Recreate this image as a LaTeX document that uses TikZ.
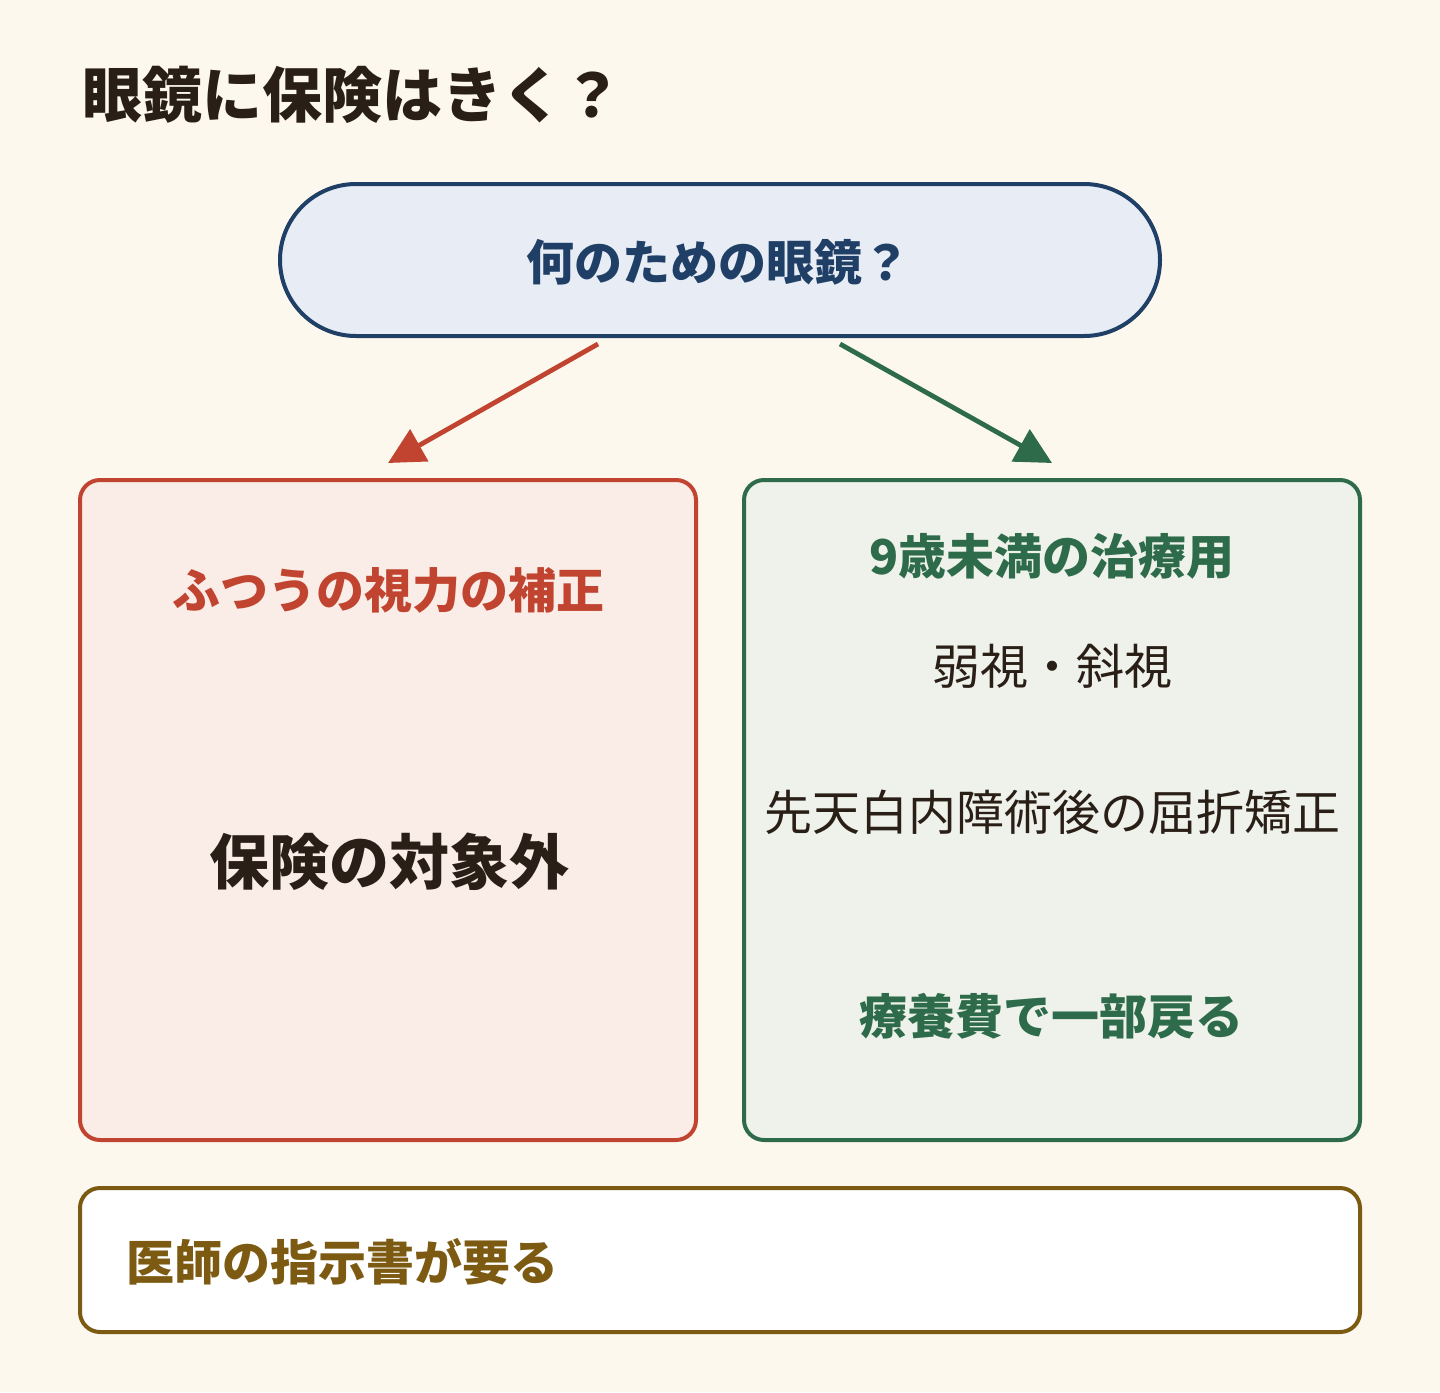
\documentclass[tikz,border=0pt]{standalone}
\usepackage{fontspec}
\setmainfont{Noto Sans CJK JP}
\usetikzlibrary{arrows.meta}
\definecolor{bg}{HTML}{FCF8EE}
\definecolor{redc}{HTML}{C0442F}
\definecolor{redf}{HTML}{FAEDE8}
\definecolor{greenc}{HTML}{2E6B4A}
\definecolor{greenf}{HTML}{EEF2EA}
\definecolor{navyc}{HTML}{1F3F66}
\definecolor{navyf}{HTML}{E8EDF5}
\definecolor{brownc}{HTML}{7D5A12}
\definecolor{inkc}{HTML}{2A1F17}
\tikzset{
  panel/.style={draw, line width=2pt, rounded corners=10pt, inner sep=0pt},
  lbl/.style={inner sep=0pt, font=\fontsize{24pt}{28pt}\selectfont},
  blbl/.style={inner sep=0pt, font=\fontsize{24pt}{28pt}\selectfont\bfseries},
  arr/.style={line width=2.4pt, -{Triangle[length=18pt,width=18pt]}},
}
\begin{document}
\begin{tikzpicture}[x=0.5pt,y=-0.5pt]
\fill[bg] (0,0) rectangle (1440,1392);
\useasboundingbox (0,0) rectangle (1440,1392);
\node[anchor=west, inner sep=0pt, text=inkc, font=\fontsize{30pt}{34pt}\selectfont\bfseries] (title) at (82,95) {眼鏡に保険はきく？};
\node[panel, draw=navyc, fill=navyf, rounded corners=38pt, minimum width=440pt, minimum height=76pt] (top) at (720,260) {};
\node[blbl, text=navyc] (toptext) at (718,262) {何のための眼鏡？};
\node[panel, draw=redc, fill=redf, minimum width=308pt, minimum height=330pt] (left) at (388,810) {};
\node[panel, draw=greenc, fill=greenf, minimum width=308pt, minimum height=330pt] (right) at (1052,810) {};
\node[panel, draw=brownc, fill=white, minimum width=640pt, minimum height=72pt] (bottom) at (720,1260) {};
\node[blbl, text=redc] (l1) at (388,590) {ふつうの視力の補正};
\node[inner sep=0pt, text=inkc, font=\fontsize{30pt}{36pt}\selectfont\bfseries] (l2) at (389,862) {保険の対象外};
\node[blbl, text=greenc] (r1) at (1052,556) {9歳未満の治療用};
\node[lbl, text=inkc] (r2) at (1052,666) {弱視・斜視};
\node[lbl, text=inkc] (r3) at (1052,812) {先天白内障術後の屈折矯正};
\node[blbl, text=greenc] (r4) at (1051,1016) {療養費で一部戻る};
\node[blbl, text=brownc, anchor=west] (b1) at (126,1262) {医師の指示書が要る};
\coordinate (ra) at (598,344);
\coordinate (rb) at (388,463);
\coordinate (ga) at (840,344);
\coordinate (gb) at (1052,463);
\draw[arr, redc] (ra) -- (rb);
\draw[arr, greenc] (ga) -- (gb);
\end{tikzpicture}
\end{document}
